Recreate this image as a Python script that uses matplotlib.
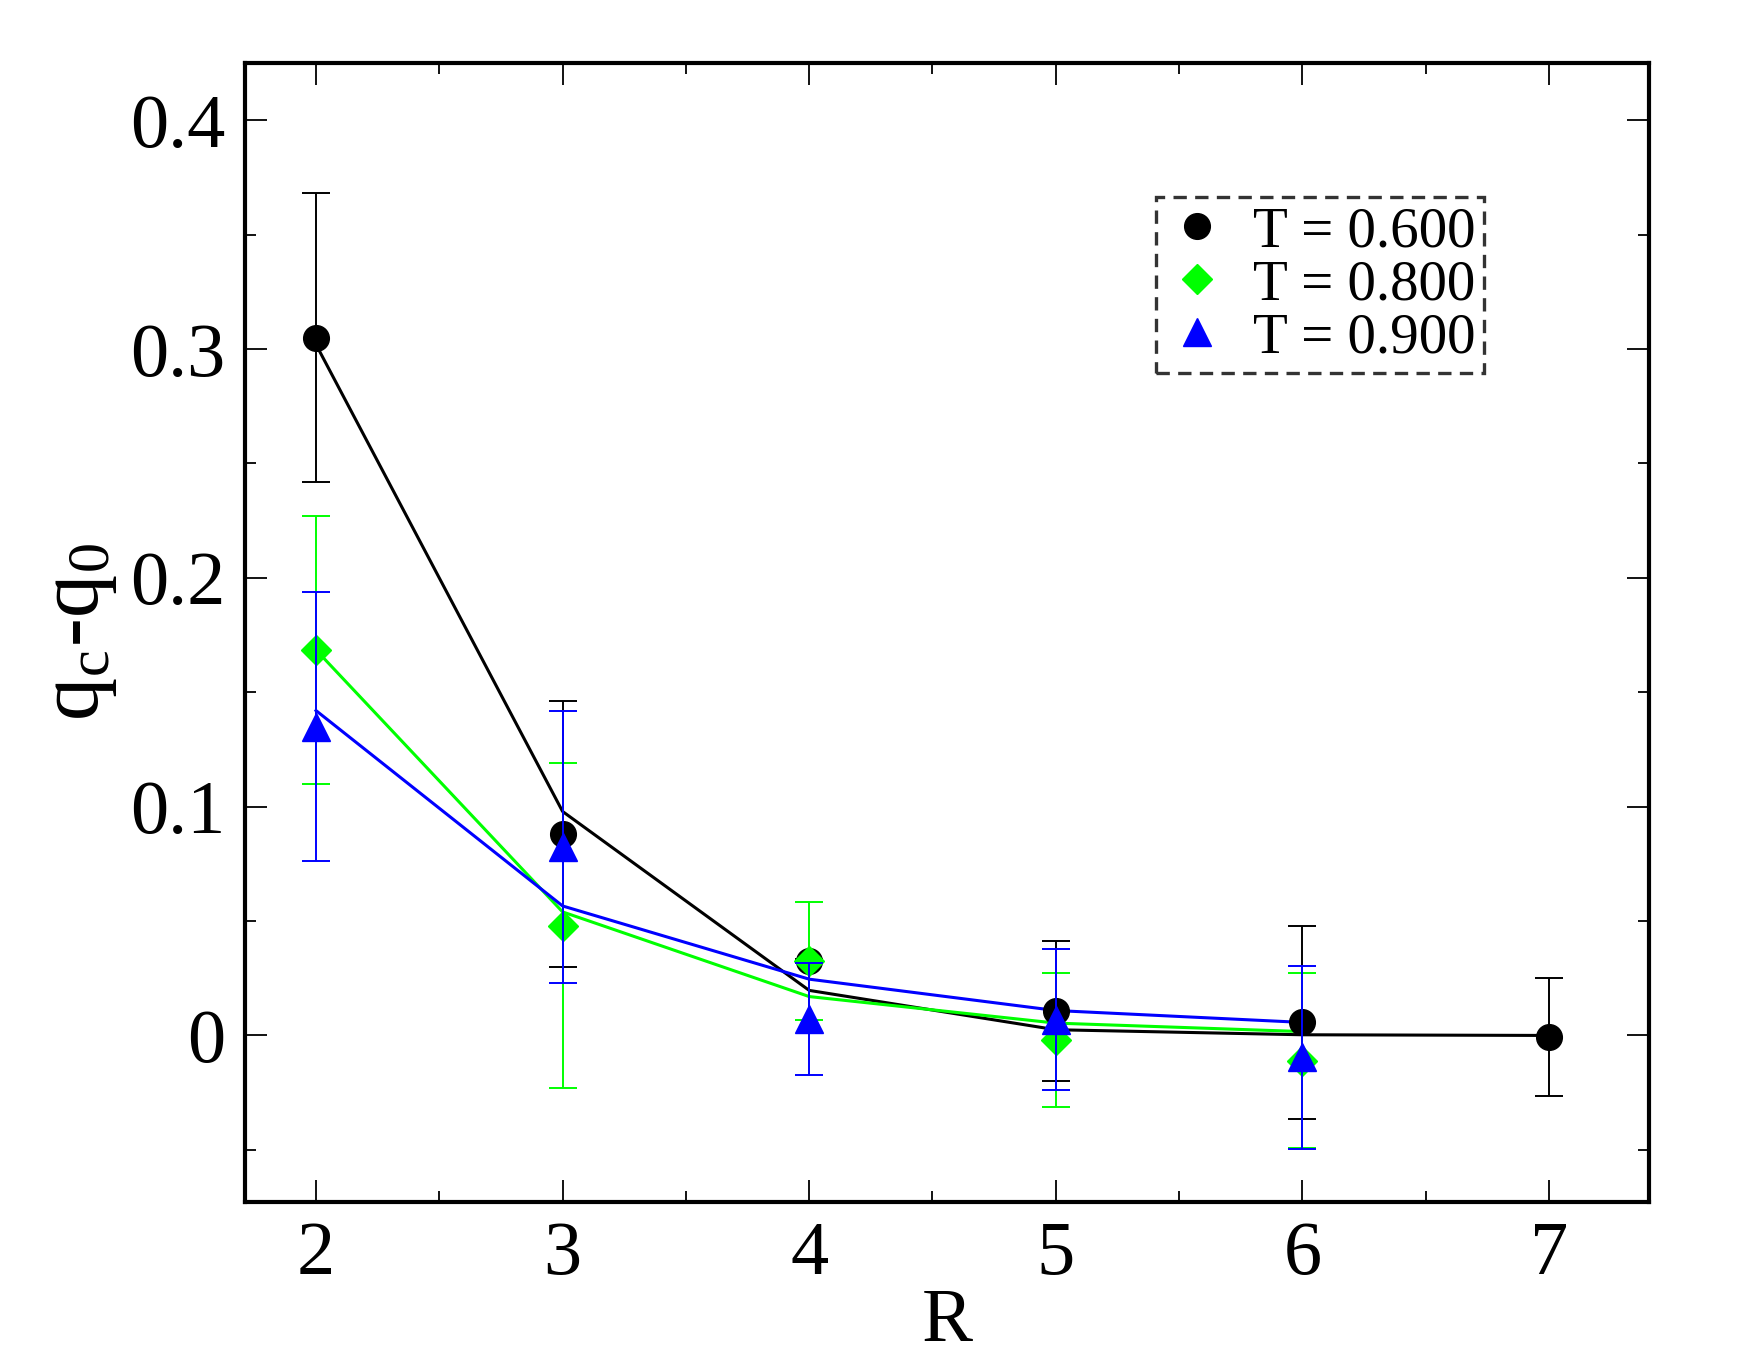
import numpy as np
import matplotlib.pyplot as plt
from matplotlib.lines import Line2D

plt.rcParams['font.family'] = ['Liberation Serif', 'DejaVu Serif']
plt.rcParams['mathtext.fontset'] = 'stix'

# measured points with error bars
R_06 = [2, 3, 4, 5, 6, 7]
q_06 = [0.305, 0.088, 0.0325, 0.0107, 0.0057, -0.0008]
err_06 = [0.063, 0.058, 0.001, 0.0308, 0.0422, 0.0258]

R_08 = [2, 3, 4, 5, 6]
q_08 = [0.1685, 0.048, 0.0324, -0.002, -0.011]
err_08 = [0.0585, 0.071, 0.0258, 0.0293, 0.0384]

R_09 = [2, 3, 4, 5, 6]
q_09 = [0.135, 0.0825, 0.0072, 0.0069, -0.0096]
err_09 = [0.0587, 0.0595, 0.0244, 0.0309, 0.040]

# fit curves
fit_06 = [0.302, 0.0979, 0.0197, 0.0025, 0.0003, 0.0]
fit_08 = [0.1685, 0.054, 0.017, 0.0054, 0.0017]
fit_09 = [0.142, 0.0566, 0.0246, 0.0109, 0.0057]

labels = ['T = 0.600', 'T = 0.800', 'T = 0.900']
colors = ['black', '#00ff00', '#0000ff']
markers = ['o', 'D', '^']
sizes = [18.5, 15, 20]

fig = plt.figure(figsize=(17.65, 13.65), dpi=100)
ax = fig.add_axes([0.1388, 0.1194, 0.7955, 0.8344])

ax.plot(R_06, fit_06, color=colors[0], lw=2.2, zorder=2)
ax.plot(R_08, fit_08, color=colors[1], lw=2.2, zorder=2)
ax.plot(R_09, fit_09, color=colors[2], lw=2.2, zorder=2)

data = [(R_06, q_06, err_06), (R_08, q_08, err_08), (R_09, q_09, err_09)]
for i, (r, q, e) in enumerate(data):
    ax.errorbar(r, q, e, fmt=markers[i], color=colors[i], ms=sizes[i], capsize=10,
                elinewidth=1.4, capthick=1.4, zorder=3 + i)

ax.set_xlim(1.712, 7.406)
ax.set_ylim(-0.0728, 0.425)
ax.set_xticks([2, 3, 4, 5, 6, 7])
ax.set_xticks(np.arange(2.5, 7.0, 1.0), minor=True)
ax.set_yticks([0, 0.1, 0.2, 0.3, 0.4])
ax.set_yticklabels(['0', '0.1', '0.2', '0.3', '0.4'])
ax.set_yticks([-0.05, 0.05, 0.15, 0.25, 0.35], minor=True)
ax.tick_params(which='both', direction='in', top=True, right=True, labelsize=55)
ax.tick_params(which='major', length=16, width=1.3, pad=14)
ax.tick_params(which='minor', length=8, width=1.3)
for s in ax.spines.values():
    s.set_linewidth(3)

ax.set_xlabel('R', fontsize=55, labelpad=-2)
ax.set_ylabel(r'q$_\mathregular{c}$-q$_\mathregular{0}$', fontsize=62, labelpad=8)

handles = [Line2D([], [], ls='none', marker=markers[i], color=colors[i], ms=sizes[i])
           for i in range(3)]
leg = ax.legend(handles, labels, loc='upper left', bbox_to_anchor=(0.649, 0.882),
                fontsize=41, frameon=True, fancybox=False, handletextpad=0.43,
                borderpad=0.15, labelspacing=0.02, handlelength=1.12, borderaxespad=0)
leg.get_frame().set_edgecolor('black')
leg.get_frame().set_linewidth(2.4)
leg.get_frame().set_linestyle((0, (4, 2.5)))

fig.savefig('out.png', dpi=100)
